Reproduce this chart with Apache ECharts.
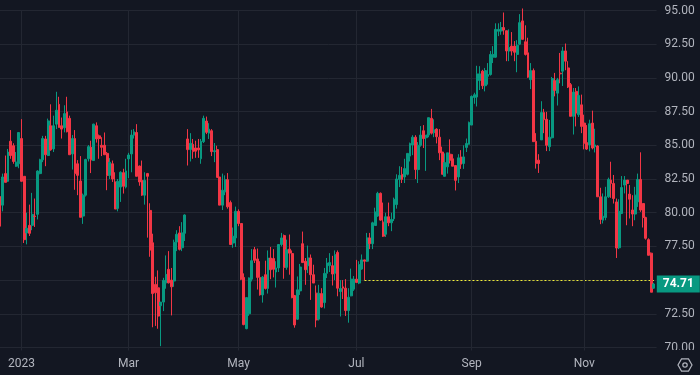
<!DOCTYPE html>
<html><head><meta charset="utf-8">
<style>html,body{margin:0;padding:0;background:#131722}#c{width:700px;height:375px}</style>
<script src="https://cdn.jsdelivr.net/npm/echarts@6/dist/echarts.min.js"></script>
</head><body><div id="c"></div>
<script>
// each row: [open, close, low, high]
const candlesDec=[[81.2,79.0,79.0,81.2],[80.56,82.65,80.1,82.9],[82.9,82.25,82.25,84.24],[82.33,84.5,82.28,84.73],[85.3,84.24,84.0,86.13],[84.97,83.8,83.63,85.15],[83.45,83.75,83.4,84.5],[83.63,85.95,83.3,85.95]];
const candlesJanFeb=[[85.5,82.33,82.3,86.94],[82.7,78.0,77.75,82.7],[78.5,78.85,77.65,80],[79.06,78.47,78.27,80.6],[79.06,79.88,78.7,81.47],[79.75,79.72,78.94,81.05],[79.88,83.09,79.5,83.15],[82.9,83.92,82.85,84],[83.92,85.5,83.75,85.7],[85.47,84.3,83.45,85.7],[84.24,86.81,84.2,86.98],[86.45,84.66,84.6,88.04],[84.73,86.45,84.5,87.2],[86.57,87.6,86.2,88.97],[88.04,86.32,86.32,88.6],[86.45,86.2,85.5,87.06],[86.3,87.35,85.96,87.97],[87.48,86.0,85.96,88.6],[87.0,84.3,84.3,87.2],[84.36,85.5,83.2,85.76],[85.5,82.9,81.7,86.13],[83.63,82.77,81.3,83.9],[82.35,79.66,79.66,84.2],[79.75,81.3,79.17,81.42],[81.3,83.95,81.2,84.0],[84,84.9,83.8,85.02],[84.85,83.92,82.94,85.34],[83.87,86.57,83.87,86.6],[86.45,85.47,85.2,86.7],[85.7,85.5,84,85.8],[85.0,84.85,84.2,85.6],[85.0,84.3,84.3,85.95],[84.4,82.77,81.67,84.5],[82.77,83.75,82.5,84.05],[83.63,82.5,82.28,83.87],[82.28,80.27,80.27,83.0],[80.32,82.33,80.1,82.5],[81.9,83.0,80.8,83.07],[82.97,81.96,81.42,83.26],[81.9,83.1,81.8,84]];
const candlesMarApr=[[83.99,84.28,82.57,84.44],[84.36,85.76,83.0,86.15],[85.75,86.0,85.5,86.2],[85.95,82.7,82.7,86.57],[83.46,82.28,82,83.5],[82.4,81.3,81.25,83.87],[81.3,82.4,80.6,83],[82.9,82.7,78.15,82.95],[80.17,77.23,76.73,80.7],[77.77,74.0,71.5,78.44],[74.68,74.06,71.6,75.25],[74.43,72.33,71.39,75.72],[73.1,73.37,70.1,73.37],[73.37,74.98,72.7,75.17],[74.8,75.42,74.36,76.83],[75.8,74.8,74.75,77.15],[75,74.5,72.38,75.9],[74.93,77.8,74.5,78.0],[77.82,78.4,77.15,78.7],[78.5,77.28,77.2,79.0],[77.4,78.5,77.15,79.3],[78.47,79.83,77.9,79.88],[85.47,84.68,83.5,86.2],[84.68,85.15,83.8,85.9],[85.07,84.53,84.0,85.47],[84.8,84.56,84.07,85.34],[84.8,84.66,84.07,85.47],[84.0,85.3,83.63,85.47],[85.27,87.0,85.17,87.2],[86.8,85.96,85.83,87.13],[85.9,86.2,85.47,86.64],[86.08,84.53,84.2,86.2],[84.53,84.6,83.75,85.17],[84.68,82.62,82.62,84.97],[82.65,80.56,80.56,82.65],[80.56,81.67,80.2,82.9],[81.55,82.45,81.3,82.77],[82.45,80.44,80.3,82.94],[80.75,77.64,77.6,80.9],[77.75,78.25,77.4,78.9],[78.13,80.1,77.46,80.45]];
const candlesMayJun=[[80.1,79.2,79.0,80.25],[79.2,75.07,75,79.2],[75.2,71.7,71.65,75.5],[71.4,73.7,71.35,73.7],[72.5,75.15,72.35,75.2],[75.07,76.44,74.9,77.3],[77.26,76.47,76.27,77.46],[76.57,75.2,74.3,77.34],[75.2,73.9,73.85,76.4],[73.9,75.22,73.33,75.3],[75.4,74.38,74.3,76.44],[74.38,76.64,74.0,77.2],[76.64,75.77,75.07,77.46],[76.6,75.8,75.2,77.3],[75.6,75.9,74.45,76.4],[75.9,77.64,75.6,77.64],[77.64,78.13,77.5,78.5],[78.3,75.95,75.1,78.38],[75.95,77.26,75.77,78.0],[77.3,77.0,75.4,78.38],[76.97,73.7,73.65,77.2],[73.85,71.67,71.47,73.9],[72.1,74.28,72.04,75.27],[74.2,75.97,73.9,76.2],[77.7,76.3,76.27,78.6],[76.4,75.77,74.65,76.64],[76.07,76.64,75.52,77.56],[76.64,75.4,73.53,76.9],[75.4,74.78,74.78,76.14],[74.03,72.04,71.5,74.6],[72.1,74.03,72,74.65],[74.0,73.0,72.95,74.4],[73.33,75.5,72.9,75.9],[75.5,76.27,75.15,76.64],[76.07,76.3,75.6,77.0],[76.07,75.45,74.6,76.8],[75.5,76.9,75.0,77.2],[77.05,74.4,73.8,77.2],[74.15,74.38,72.3,75.0],[74.5,74.4,73.6,75],[74.4,72.74,72.34,75.07],[72.74,73.73,71.84,74.4],[73.83,75.07,73.8,75.85],[74.33,75.07,74.2,75.3]];
const candlesJulAug=[[75.07,74.83,74.78,76.5],[74.78,76.14,74.7,76.4],[75.82,76.5,75.77,76.9],[76.5,76.4,75,76.52],[76.4,78.13,76.34,78.5],[78.13,77.7,77.3,78.5],[77.7,79.25,77.3,79.33],[79.05,80.05,79.05,80.37],[79.75,81.44,79.7,81.55],[81.44,79.45,79.4,81.5],[79.3,78.26,78.2,80.75],[78.4,79.7,78.2,80.0],[79.7,79.25,79.0,80.75],[79.25,79.5,78.63,80],[79.55,81,79.38,81.12],[80.6,82.5,80.3,82.85],[82.47,82.77,81.9,83.45],[82.85,82.47,82.2,83.4],[82.65,83.27,82.2,84.0],[82.85,84.4,82.77,84.4],[84.2,85.14,83.8,85.2],[85.02,85.6,84.27,85.75],[85.6,83.2,82.5,85.75],[83.2,85.0,82.2,85.24],[85.0,85.76,84.9,86.43],[86.08,85.5,84.8,86.5],[85.56,85.76,83.1,85.76],[85.76,87.05,85.6,87.05],[87.0,85.9,85.8,87.7],[85.94,86.14,85.6,86.93],[86.2,85.64,85.14,86.26],[85.6,84.44,83.9,86.2],[84.5,82.85,82.85,84.9],[82.7,83.72,82.7,84.4],[83.4,84.44,82.9,84.44],[84.34,83.9,83.65,85.44],[84.0,83.45,83.45,84.34],[83.5,82.4,81.65,83.5],[82.65,84.07,82.2,84.34],[84.14,83.6,83.25,84.64],[83.65,84.14,83.25,85],[84.84,85.14,84.5,85.5],[85.07,86.7,85.05,86.76]];
const candlesSepOct=[[86.5,88.63,86.5,88.7],[88.55,88.75,88.08,88.9],[88.58,90.3,87.88,90.9],[89.8,90.3,89.1,90.87],[90.5,89.42,89.17,90.6],[89.42,90.54,89.0,90.74],[90.12,90.25,89.5,91.1],[90.25,91.74,90.17,92],[91.54,91.74,91.1,92.36],[91.54,93.6,91.5,94.05],[93.46,93.6,93.1,94.05],[93.48,93.73,93.2,94.15],[93.73,93.55,93.2,94.85],[93.5,92,91.24,93.5],[92,92.25,91.24,93.6],[92.36,92,91.66,93.4],[92.36,91.9,91.24,92.73],[91.74,92.43,90.42,92.8],[92.5,94.1,92.43,94.73],[94.23,92.86,92.86,95.15],[92.68,91.74,91.66,93.9],[91.86,90.05,90.0,92.98],[89.87,90.54,89.17,91.1],[90.54,85.27,85.27,90.7],[85.3,83.65,83.27,85.9],[83.9,83.65,82.95,84.34],[85.4,87.43,85.4,88.27],[87.43,86.9,85.9,87.7],[86.93,85,84.57,87.48],[84.9,85.6,84.57,86.88],[85.56,89.95,85.5,90.07],[89.8,89.07,88.63,90.37],[88.87,89.87,87.95,90],[90.35,90.3,89.6,91.85],[90.5,92,89.4,92.3],[92,91.24,90.57,92.55],[90.74,89.33,89.25,91.24],[89.5,87.15,87.15,89.62],[87.15,88.95,85.8,89.25],[89.0,87.4,86.4,89.25],[87.27,88.7,87.1,89.37],[88.0,86.4,85.9,88.76]];
const candlesNovDec=[[86.65,85.16,84.7,87.27],[85.2,84.72,84.65,86.5],[85.03,86.6,84.55,86.9],[86.65,84.8,84.7,87.57],[84.9,85.03,84.47,86.23],[84.95,81.18,81.18,85],[81.18,79.5,79.15,81.85],[79.44,79.74,79.2,81.43],[79.64,81.18,79.44,81.92],[81.18,82.47,81.1,82.6],[82.42,82.17,81.1,83.78],[82.17,81.05,80.68,82.8],[80.8,77.38,76.64,81.05],[77.4,80.1,77.3,81],[79.94,81.87,79.9,82.72],[82.05,82.42,81.43,82.72],[82.42,82.17,79.07,82.42],[81.38,81,79.57,82.05],[80.2,79.9,79,81.3],[79.9,81.3,79.44,81.92],[80.8,82.47,80.43,82.9],[82.47,80.2,80.06,84.48],[80.68,79.64,78.9,80.7],[79.64,78.1,78.0,79.7],[78.0,76.84,76.84,78.1],[77.0,74.1,74.1,77.05],[74.4,74.71,74.35,74.8]];
const monthNames=['2023','Mar','May','Jul','Sep','Nov'];
const priceLineValue=74.97;
const priceLineStart=136;
const lastClose=74.71;
const hiddenTick=75;

const segments=[candlesDec,candlesJanFeb,candlesMarApr,candlesMayJun,candlesJulAug,candlesSepOct,candlesNovDec];
const candles=[].concat(...segments);
const tickAt={};let run=0;
segments.forEach((s,k)=>{run+=s.length;if(k<monthNames.length)tickAt[run]=monthNames[k];});
const categories=Array.from({length:246},(_,i)=>String(i));
const isTick=i=>tickAt[i]!==undefined;
const grid='#232732',text='#b2b5be',bg='#131722';
const priceLine=categories.map((_,i)=>(i>=priceLineStart&&i<candles.length)?priceLineValue:null);
const chart=echarts.init(document.getElementById('c'),null,{renderer:'canvas'});
const hex=[];for(let a=0;a<6;a++){const t=Math.PI/3*a;hex.push([685+7*Math.cos(t),365+7*Math.sin(t)]);}
chart.setOption({
 animation:false,backgroundColor:bg,
 textStyle:{fontFamily:'Roboto, "Liberation Sans", sans-serif'},
 grid:{left:0,width:656.6,top:10.5,height:337},
 xAxis:{type:'category',data:categories,boundaryGap:false,z:3,
  axisLine:{show:false},
  axisTick:{show:true,length:3,lineStyle:{color:grid},interval:(i)=>isTick(i)},
  axisLabel:{interval:(i)=>isTick(i),formatter:(v)=>tickAt[v]||'',color:text,fontSize:12,margin:10,hideOverlap:false},
  splitLine:{show:true,interval:(i)=>isTick(i),lineStyle:{color:grid,width:1}}},
 yAxis:{type:'value',position:'right',min:70,max:95,interval:2.5,scale:false,
  axisLine:{show:false},axisTick:{show:false},
  axisLabel:{color:text,fontSize:12,margin:8,formatter:(v)=>v===hiddenTick?'':v.toFixed(2)},
  splitLine:{show:true,lineStyle:{color:grid,width:1}}},
 series:[{type:'candlestick',clip:false,data:candles,barWidth:2.4,z:3,
  itemStyle:{color:'#089981',color0:'#f23645',borderColor:'#089981',borderColor0:'#f23645',borderWidth:1},
  markPoint:{silent:true,animation:false,symbol:'rect',symbolSize:[43,17],symbolOffset:[21.7,0],
   itemStyle:{color:'#089981'},
   label:{show:true,position:'inside',color:'#ffffff',fontWeight:'bold',fontSize:12,formatter:()=>lastClose.toFixed(2)},
   data:[{coord:['245',lastClose]}]}
 },{type:'line',data:priceLine,symbol:'none',silent:true,z:2,connectNulls:false,
   lineStyle:{color:'#f5f23a',type:[2,2],width:1}}],
 graphic:[
  {type:'rect',z:5,shape:{x:657,y:350,width:43,height:25},style:{fill:bg}},
  {type:'polygon',z:6,shape:{points:hex},style:{fill:'none',stroke:'#b2b5be',lineWidth:1.2}},
  {type:'circle',z:6,shape:{cx:685,cy:365,r:2.2},style:{fill:'none',stroke:'#b2b5be',lineWidth:1.2}}
 ]
});
</script></body></html>
